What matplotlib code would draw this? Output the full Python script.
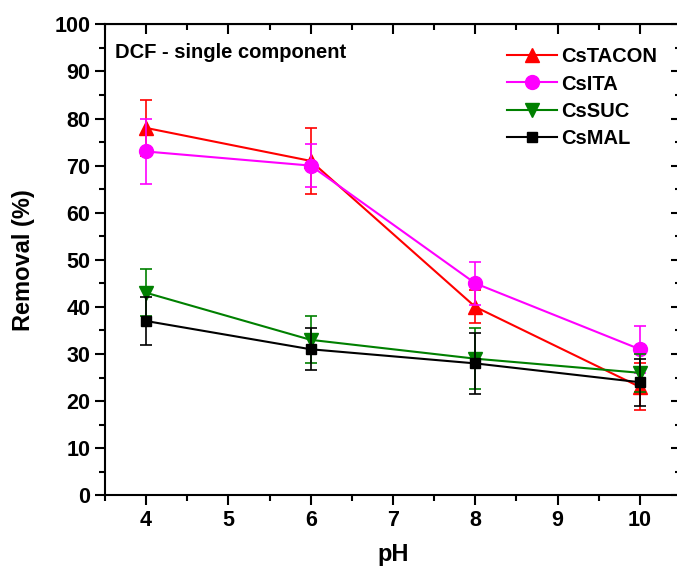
import matplotlib.pyplot as plt
from matplotlib.ticker import MultipleLocator

plt.rcParams['font.family'] = ['Liberation Sans', 'DejaVu Sans']
plt.rcParams['font.weight'] = 'bold'

ph = [4, 6, 8, 10]

tacon = [78, 71, 40, 23]
tacon_err = [6, 7, 3.5, 5]
ita = [73, 70, 45, 31]
ita_err = [7, 4.5, 4.5, 5]
suc = [43, 33, 29, 26]
suc_err = [5, 5, 6.5, 4]
mal = [37, 31, 28, 24]
mal_err = [5, 4.5, 6.5, 5]

fig = plt.figure(figsize=(6.77, 5.66), dpi=100)
ax = fig.add_axes([0.155, 0.125, 0.851, 0.832])

series = [
    (tacon, tacon_err, 'red', '^', 10.5, 'CsTACON'),
    (ita, ita_err, 'magenta', 'o', 10, 'CsITA'),
    (suc, suc_err, 'green', 'v', 10.5, 'CsSUC'),
    (mal, mal_err, 'black', 's', 7.5, 'CsMAL'),
]
handles = []
for vals, err, col, mk, ms, lab in series:
    ax.errorbar(ph, vals, yerr=err, fmt='none', ecolor=col, elinewidth=1.2,
                capsize=4, capthick=1.2)
    ln, = ax.plot(ph, vals, color=col, marker=mk, markersize=ms,
                  linewidth=1.5, label=lab)
    handles.append(ln)

ax.set_xlim(3.5, 10.5)
ax.set_ylim(0, 100)
ax.xaxis.set_major_locator(MultipleLocator(1))
ax.xaxis.set_minor_locator(MultipleLocator(0.5))
ax.yaxis.set_major_locator(MultipleLocator(10))
ax.yaxis.set_minor_locator(MultipleLocator(5))
ax.tick_params(which='both', direction='out', width=1.5, labelsize=15.5)
ax.tick_params(which='major', length=7)
ax.tick_params(which='minor', length=4)
for s in ax.spines.values():
    s.set_linewidth(1.5)

# top/right ticks point inward in the original
ax2 = ax.secondary_xaxis('top')
ax2.tick_params(which='both', direction='in', labeltop=False, width=1.5)
ax2.xaxis.set_major_locator(MultipleLocator(1))
ax2.xaxis.set_minor_locator(MultipleLocator(0.5))
ax2.tick_params(which='major', length=7)
ax2.tick_params(which='minor', length=4)
ax3 = ax.secondary_yaxis('right')
ax3.tick_params(which='both', direction='in', labelright=False, width=1.5)
ax3.yaxis.set_major_locator(MultipleLocator(10))
ax3.yaxis.set_minor_locator(MultipleLocator(5))
ax3.tick_params(which='major', length=7)
ax3.tick_params(which='minor', length=4)

ax.set_xlabel('pH', fontsize=17, fontweight='bold', labelpad=9)
ax.set_ylabel('Removal (%)', fontsize=17, fontweight='bold', labelpad=14)

ax.text(0.018, 0.94, 'DCF - single component', transform=ax.transAxes,
        fontsize=14.5, fontweight='bold', va='center', ha='left')

ax.legend(handles=handles, loc='upper left', bbox_to_anchor=(0.684, 0.968),
          frameon=False, handlelength=2.5, handletextpad=0.2,
          labelspacing=0.4, borderaxespad=0,
          prop={'weight': 'bold', 'size': 14.5})

fig.savefig('out.png', dpi=100)
